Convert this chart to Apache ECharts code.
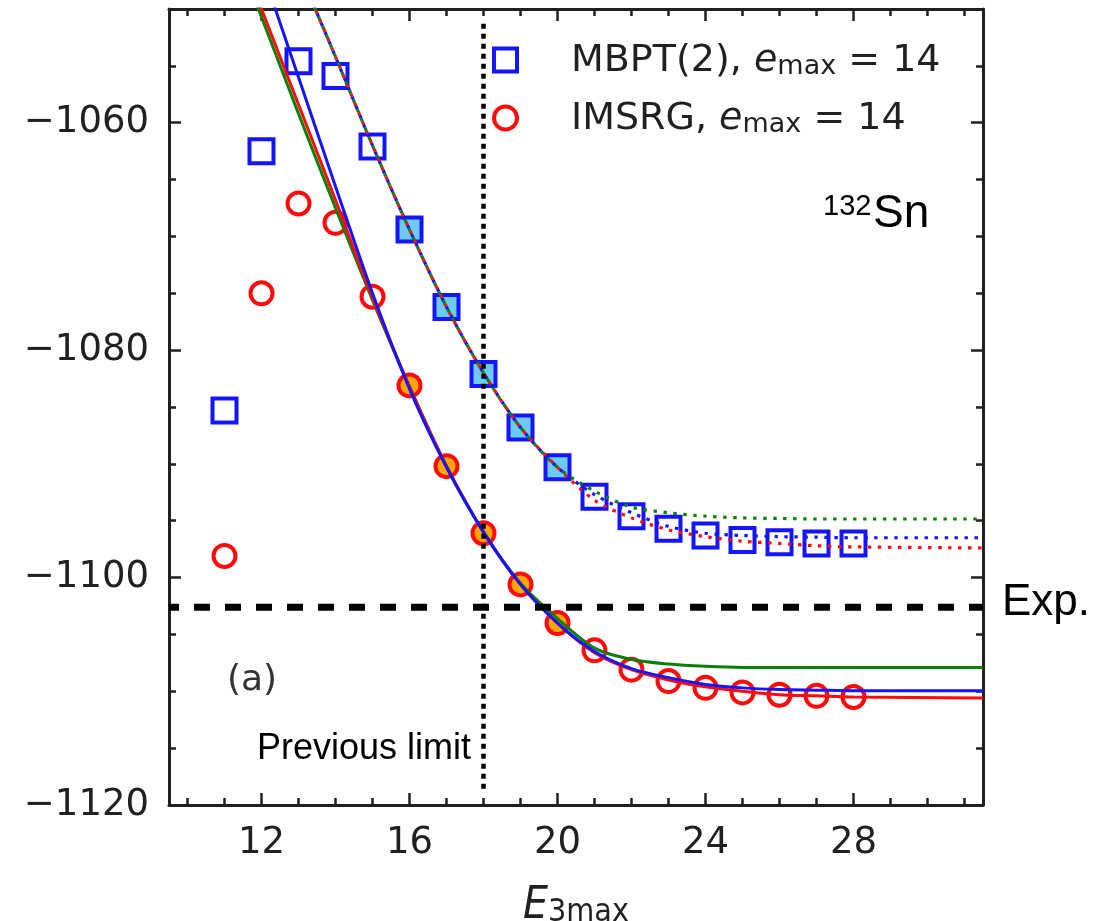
<!DOCTYPE html>
<html>
<head>
<meta charset="utf-8">
<script src="https://cdn.jsdelivr.net/npm/echarts@6/dist/echarts.min.js"></script>
<style>
  html, body { margin: 0; padding: 0; background: #fff; }
  #chart { width: 1112px; height: 921px; }
</style>
</head>
<body>
<div id="chart"></div>
<script>
// ---------------- data ----------------
const e3max = [11, 12, 13, 14, 15, 16, 17, 18, 19, 20, 21, 22, 23, 24, 25, 26, 27, 28];
const mbptEnergy = [-1085.3, -1062.5, -1054.6, -1055.9, -1062.1, -1069.4, -1076.2, -1082.1, -1086.8,
                    -1090.3, -1092.9, -1094.6, -1095.7, -1096.3, -1096.7, -1096.9, -1097.0, -1097.0];
const imsrgEnergy = [-1098.1, -1075.0, -1067.1, -1068.8, -1075.3, -1083.1, -1090.2, -1096.1, -1100.6,
                     -1104.0, -1106.4, -1108.1, -1109.1, -1109.7, -1110.1, -1110.3, -1110.4, -1110.5];
const fitPoints = [16, 17, 18, 19, 20];          // filled markers (used in the fits)

// IMSRG extrapolation curves (solid)
const imsrgFitX     = [11.8, 12, 13, 14, 15, 16, 17, 18, 19, 20, 21, 22, 23, 24, 25, 26, 27, 28, 31.5];
const imsrgFitGreen = [-1049.0, -1050.7, -1059.2, -1067.5, -1075.6, -1083.2, -1090.2, -1096.0, -1100.5, -1103.6,
                       -1106.2, -1107.2, -1107.6, -1107.8, -1107.9, -1107.9, -1107.9, -1107.9, -1107.9];
const imsrgFitRed   = [-1048.3, -1050.0, -1058.4, -1066.8, -1075.4, -1083.2, -1090.2, -1096.0, -1100.6, -1104.0,
                       -1106.6, -1108.1, -1109.0, -1109.6, -1110.0, -1110.3, -1110.4, -1110.5, -1110.6];
const imsrgFitBlue  = [-1044.5, -1046.4, -1056.0, -1065.6, -1075.0, -1083.4, -1090.3, -1096.0, -1100.6, -1104.0,
                       -1106.5, -1108.0, -1108.8, -1109.4, -1109.7, -1109.85, -1109.9, -1109.95, -1109.95];

// MBPT extrapolation curves (dotted)
const mbptFitX     = [13.4, 14, 15, 16, 17, 18, 19, 20, 21, 22, 23, 24, 25, 26, 27, 28, 31.5];
const mbptFitGreen = [-1049.6, -1054.2, -1062.0, -1069.4, -1076.2, -1082.0, -1086.8, -1090.3,
                      -1092.4, -1093.8, -1094.3, -1094.6, -1094.75, -1094.8, -1094.85, -1094.85, -1094.85];
const mbptFitBlue  = [-1049.6, -1054.2, -1062.0, -1069.4, -1076.2, -1082.0, -1086.8, -1090.3,
                      -1092.7, -1094.3, -1095.5, -1096.1, -1096.3, -1096.4, -1096.45, -1096.5, -1096.5];
const mbptFitRed   = [-1049.6, -1054.2, -1062.0, -1069.4, -1076.2, -1082.0, -1086.8, -1090.3,
                      -1093.2, -1094.75, -1095.8, -1096.4, -1096.8, -1097.0, -1097.2, -1097.3, -1097.4];

const expEnergy = -1102.6;
const previousLimit = 18;
const previousLimitSpan = [-1051.3, -1118.6];

const xRange = [9.5, 31.5];
const yRange = [-1120, -1050];
const xMajorTicks = [12, 16, 20, 24, 28];
const xMinorTicks = [10, 11, 13, 14, 15, 17, 18, 19, 21, 22, 23, 25, 26, 27, 29, 30, 31];
const yMajorTicks = [-1120, -1100, -1080, -1060];
const yMinorTicks = [-1115, -1110, -1105, -1095, -1090, -1085, -1075, -1070, -1065, -1055];

// ---------------- styling ----------------
const BLUE = '#1414ff', RED = '#ff0a0a', GREEN = '#0a800a';
const FILL_BLUE = '#6ccbf0', FILL_ORANGE = '#ffa500';
const INK = '#231f20';
const AX_FONT = '"DejaVu Sans", sans-serif';
const TXT_FONT = '"DejaVu Sans", sans-serif';

const fmtMinus = v => (v < 0 ? '\u2212' + Math.abs(v) : String(v));

function xAxisDef(pos, ticks, len, showLine, showLabel) {
  return {
    type: 'value', position: pos, min: xRange[0], max: xRange[1],
    axisLine: { show: showLine, onZero: false, lineStyle: { color: INK, width: 3 } },
    axisTick: { show: true, inside: true, length: len, customValues: ticks, lineStyle: { color: INK, width: 2.5 } },
    axisLabel: showLabel ? { show: true, customValues: ticks, margin: 20, fontSize: 37, color: INK, fontFamily: AX_FONT } : { show: false },
    splitLine: { show: false }
  };
}
function yAxisDef(pos, ticks, len, showLine, showLabel) {
  return {
    type: 'value', position: pos, min: yRange[0], max: yRange[1],
    axisLine: { show: showLine, onZero: false, lineStyle: { color: INK, width: 3 } },
    axisTick: { show: true, inside: true, length: len, customValues: ticks, lineStyle: { color: INK, width: 2.5 } },
    axisLabel: showLabel ? { show: true, customValues: ticks, margin: 20, fontSize: 37, color: INK, fontFamily: AX_FONT, formatter: fmtMinus } : { show: false },
    splitLine: { show: false }
  };
}

const xAxes = [
  xAxisDef('bottom', xMajorTicks, 12, true, true),
  xAxisDef('bottom', xMinorTicks, 7, false, false),
  xAxisDef('top', xMajorTicks, 12, true, false),
  xAxisDef('top', xMinorTicks, 7, false, false)
];
xAxes[0].name = '{e|E}{s|3max}';
xAxes[0].nameLocation = 'middle';
xAxes[0].nameGap = 74;
xAxes[0].nameTextStyle = {
  rich: {
    e: { fontSize: 44, fontStyle: 'italic', fontFamily: '"DejaVu Sans Condensed", "DejaVu Sans", sans-serif', color: INK, lineHeight: 50, verticalAlign: 'bottom' },
    s: { fontSize: 32, fontFamily: '"DejaVu Sans Condensed", "DejaVu Sans", sans-serif', color: INK, lineHeight: 36, verticalAlign: 'bottom' }
  }
};
const yAxes = [
  yAxisDef('left', yMajorTicks, 12, true, true),
  yAxisDef('left', yMinorTicks, 7, false, false),
  yAxisDef('right', yMajorTicks, 12, true, false),
  yAxisDef('right', yMinorTicks, 7, false, false)
];

const isFit = x => fitPoints.indexOf(x) >= 0;
const mbptData = e3max.map((x, i) => isFit(x)
  ? { value: [x, mbptEnergy[i]], itemStyle: { color: FILL_BLUE } }
  : { value: [x, mbptEnergy[i]] });
const imsrgData = e3max.map((x, i) => isFit(x)
  ? { value: [x, imsrgEnergy[i]], itemStyle: { color: FILL_ORANGE } }
  : { value: [x, imsrgEnergy[i]] });

const zip = (xs, ys) => xs.map((x, i) => [x, ys[i]]);

function solidFit(ys, color) {
  return {
    type: 'line', data: zip(imsrgFitX, ys), showSymbol: false, smooth: 0.3,
    lineStyle: { color: color, width: 3 }, z: 4, silent: true
  };
}
function dottedFit(ys, color, offset) {
  return {
    type: 'line', data: zip(mbptFitX, ys), showSymbol: false, smooth: 0.3,
    lineStyle: { color: color, width: 3.2, type: [3.4, 6.6], dashOffset: offset }, z: 4, silent: true
  };
}

const legendRich = {
  t: { fontSize: 38, fontFamily: TXT_FONT, color: INK, lineHeight: 40, verticalAlign: 'bottom' },
  p: { fontSize: 38, fontFamily: TXT_FONT, color: INK, lineHeight: 40, verticalAlign: 'bottom', padding: [0, 0, 0, 49] },
  e: { fontSize: 38, fontFamily: TXT_FONT, fontStyle: 'italic', color: INK, lineHeight: 40, verticalAlign: 'bottom' },
  s: { fontSize: 27, fontFamily: TXT_FONT, color: INK, lineHeight: 18, verticalAlign: 'bottom' }
};
const legendLabels = {
  'MBPT(2)': '{p|MBPT(2), }{e|e}{s|max}{t| = 14}',
  'IMSRG': '{p|IMSRG, }{e|e}{s|max}{t| = 14}'
};

const option = {
  animation: false,
  backgroundColor: '#fff',
  grid: { left: 169, right: 129, top: 9, bottom: 116, containLabel: false, outerBoundsMode: 'none' },
  xAxis: xAxes,
  yAxis: yAxes,
  legend: {
    left: 492, top: 42, orient: 'vertical', padding: 0, itemGap: 20,
    itemWidth: 23, itemHeight: 23, selectedMode: false,
    data: [
      { name: 'MBPT(2)', icon: 'rect', itemStyle: { color: '#fff', borderColor: BLUE, borderWidth: 4 } },
      { name: 'IMSRG', icon: 'circle', itemStyle: { color: '#fff', borderColor: RED, borderWidth: 4 } }
    ],
    formatter: n => legendLabels[n],
    textStyle: { rich: legendRich }
  },
  graphic: [
    { type: 'text', x: 823, y: 207, style: { text: '132', font: '29px "Liberation Sans", Arial, sans-serif', fill: '#000', verticalAlign: 'middle' } },
    { type: 'text', x: 873, y: 214, style: { text: 'Sn', font: '46px "Liberation Sans", Arial, sans-serif', fill: '#000', verticalAlign: 'middle' } },
    { type: 'text', x: 1002, y: 603, style: { text: 'Exp.', font: '44px "Liberation Sans", Arial, sans-serif', fill: '#000', verticalAlign: 'middle' } },
    { type: 'text', x: 257, y: 749, style: { text: 'Previous limit', font: '36px "Liberation Sans", Arial, sans-serif', fill: '#000', verticalAlign: 'middle' } },
    { type: 'text', x: 227, y: 681, style: { text: '(a)', font: '36px "DejaVu Sans", sans-serif', fill: '#333', verticalAlign: 'middle' } }
  ],
  series: [
    { name: 'MBPT(2)', type: 'scatter', data: mbptData, symbol: 'rect', symbolSize: 24,
      itemStyle: { color: '#fff', borderColor: BLUE, borderWidth: 4, opacity: 1 }, z: 2, silent: true },
    { name: 'IMSRG', type: 'scatter', data: imsrgData, symbol: 'circle', symbolSize: 22,
      itemStyle: { color: '#fff', borderColor: RED, borderWidth: 4, opacity: 1 }, z: 2, silent: true },
    solidFit(imsrgFitGreen, GREEN),
    solidFit(imsrgFitRed, RED),
    solidFit(imsrgFitBlue, BLUE),
    dottedFit(mbptFitBlue, BLUE, 0),
    dottedFit(mbptFitRed, RED, 3.3),
    dottedFit(mbptFitGreen, GREEN, 6.6),
    { type: 'line', data: [[xRange[0], expEnergy], [xRange[1], expEnergy]], showSymbol: false,
      lineStyle: { color: '#000', width: 7, type: [16, 15], dashOffset: 6 }, z: 5, silent: true },
    { type: 'line', data: [[previousLimit, previousLimitSpan[0]], [previousLimit, previousLimitSpan[1]]], showSymbol: false,
      lineStyle: { color: '#000', width: 4.5, type: [5, 5] }, z: 5, silent: true }
  ]
};

const chart = echarts.init(document.getElementById('chart'), null, { renderer: 'canvas' });
chart.setOption(option);
</script>
</body>
</html>
